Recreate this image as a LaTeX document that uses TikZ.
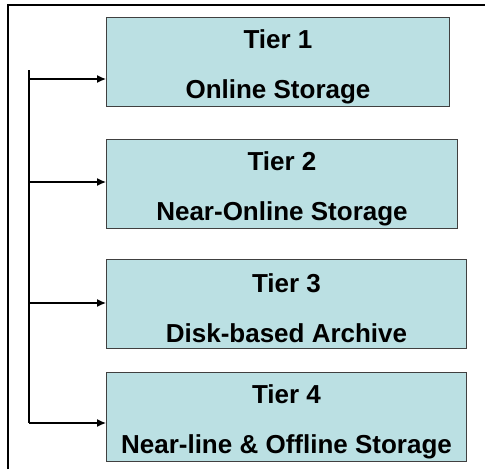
\documentclass[tikz,border=0pt]{standalone}
\usepackage{fontspec}
\setmainfont{Liberation Sans}
\usetikzlibrary{positioning,arrows.meta}
\definecolor{tierfill}{RGB}{187,224,227}
\newcommand{\tierstrut}{\rule{0pt}{28pt}}
\tikzset{
  tierbox/.style={draw=black!75, line width=1pt, fill=tierfill, anchor=north west,
    minimum height=89pt, inner sep=0pt, align=center,
    font=\bfseries\fontsize{26}{50}\selectfont},
  feed/.style={line width=1.3pt},
}
\begin{document}
\begin{tikzpicture}[>={Latex[length=9pt,width=8pt]}, x=1pt, y=-1pt]
\useasboundingbox (0,0) rectangle (485,469);
\draw[line width=2pt](8,469)--(8,5)--(485,5);
\node[tierbox, minimum width=343pt] (t1) at (106,17) {\tierstrut Tier 1\\Online Storage};
\node[tierbox, minimum width=351pt] (t2) at (106,139) {\tierstrut Tier 2\\Near-Online Storage};
\node[tierbox, minimum width=360pt] (t3) at (106,259) {\tierstrut Tier 3\\Disk-based Archive};
\node[tierbox, minimum width=360pt] (t4) at (106,372) {\tierstrut Tier 4\\Near-line \& Offline Storage};
\coordinate (top) at (29,70);
\coordinate (b1) at (29,79);
\coordinate (b2) at (29,182);
\coordinate (b3) at (29,303);
\coordinate (b4) at (29,423);
\draw[feed](top)--(b4);
\draw[feed,->](b1)--(b1 -| t1.west);
\draw[feed,->](b2)--(b2 -| t2.west);
\draw[feed,->](b3)--(b3 -| t3.west);
\draw[feed,->](b4)--(b4 -| t4.west);
\end{tikzpicture}
\end{document}
